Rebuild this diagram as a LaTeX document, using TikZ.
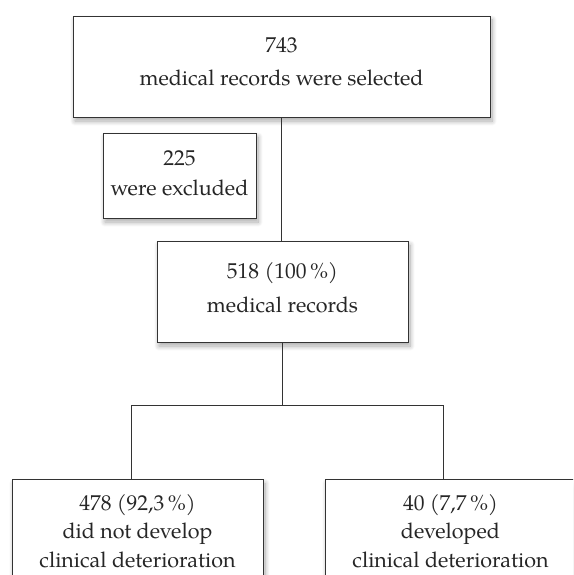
\documentclass[tikz,border=0pt]{standalone}
\usepackage{fontspec}
\setmainfont{texgyrepagella}[Extension=.otf, UprightFont=*-regular, BoldFont=*-bold, ItalicFont=*-italic, BoldItalicFont=*-bolditalic]
\usetikzlibrary{shadows.blur}
\tikzset{
  box/.style={draw=black!80, line width=0.8pt, fill=white, text=black!85,
    align=center, inner sep=0pt,
    blur shadow={shadow xshift=2pt, shadow yshift=-4pt, shadow blur radius=5pt, shadow blur steps=10, shadow opacity=35}},
  link/.style={draw=black!80, line width=0.8pt}
}
\begin{document}
\begin{tikzpicture}[x=1pt, y=-1pt]
\useasboundingbox (0,0) rectangle (573,575);
\clip (0,0) rectangle (573,575);
\node[box, font=\fontsize{21.5}{32.4}\selectfont, minimum width=417pt, minimum height=101pt] (top) at (281.5,66.5)
  {743\\medical records were selected\rule[-10pt]{0pt}{0pt}};
\node[box, font=\fontsize{21.5}{30}\selectfont, minimum width=153pt, minimum height=85pt] (excl) at (179.5,175.5)
  {225\\were excluded\rule[-5.5pt]{0pt}{0pt}};
\node[box, font=\fontsize{21.5}{34.4}\selectfont, minimum width=251pt, minimum height=101pt] (mid) at (282.5,291.5)
  {518 (100\,\%)\\medical records\rule[-8pt]{0pt}{0pt}};
\node[box, font=\fontsize{21.5}{28.5}\selectfont, minimum width=251pt, inner ysep=15pt, anchor=north] (left) at (137.5,479)
  {478 (92,3\,\%)\\did not develop\\clinical deterioration};
\node[box, font=\fontsize{21.5}{28.5}\selectfont, minimum width=251pt, inner ysep=15pt, anchor=north] (right) at (450.5,479)
  {40 (7,7\,\%)\\developed\\clinical deterioration};
\coordinate (bl) at (131,405);
\coordinate (br) at (443,405);
\draw[link] (top.south) -- (top.south |- mid.north);
\draw[link] (mid.south) -- (mid.south |- bl);
\draw[link] (bl |- left.north) -- (bl) -- (br) -- (br |- right.north);
\end{tikzpicture}
\end{document}
